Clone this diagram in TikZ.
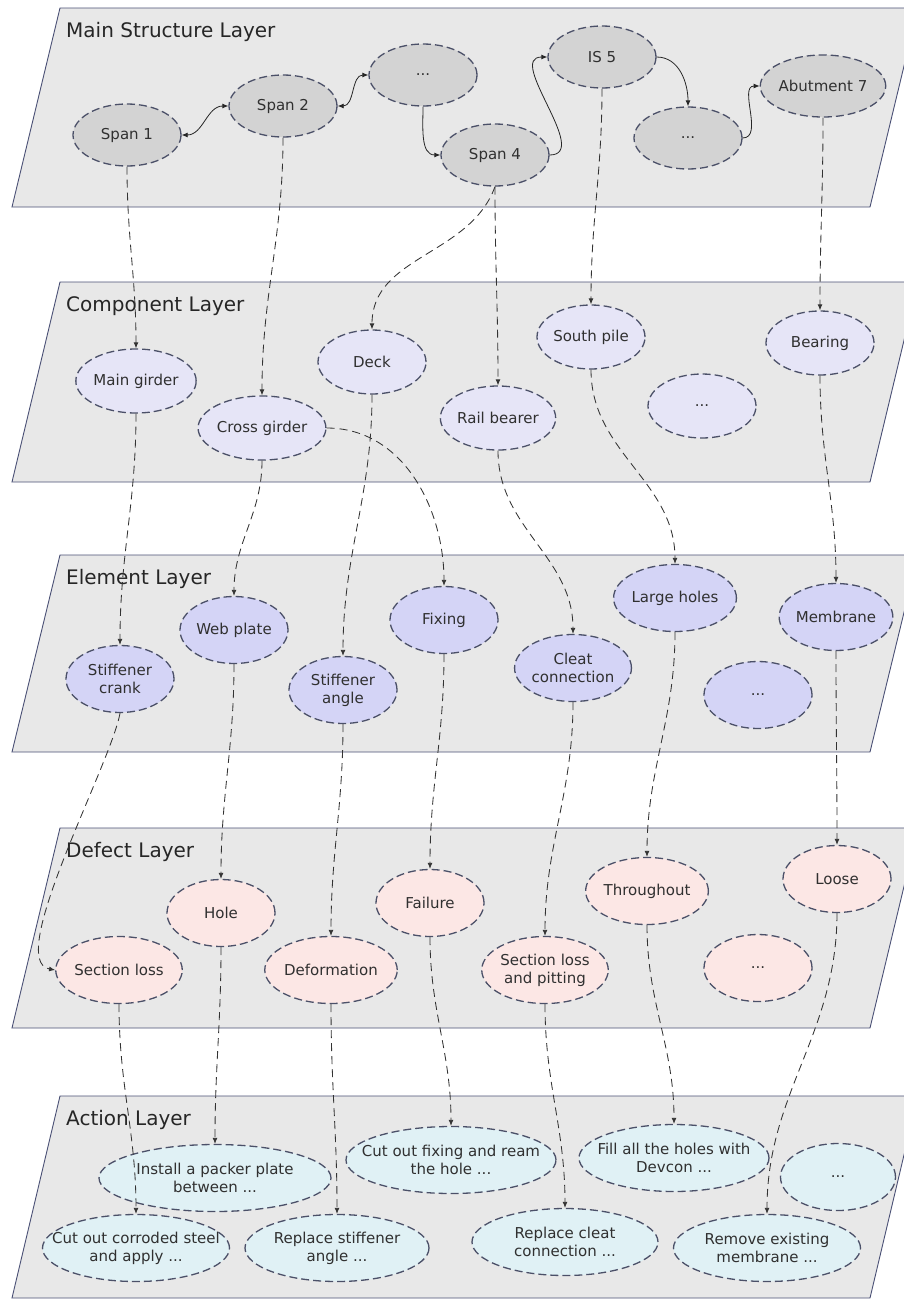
\documentclass[tikz,border=0pt]{standalone}
\usepackage{fontspec}
\setmainfont{DejaVu Sans}
\usetikzlibrary{arrows.meta,shapes.geometric}
\definecolor{LayerGray}{HTML}{E8E8E8}
\definecolor{LayerEdge}{HTML}{4A5075}
\definecolor{ItemEdge}{HTML}{4B5068}
\definecolor{TextInk}{HTML}{303030}
\definecolor{MainGray}{HTML}{D3D3D3}
\definecolor{CompLilac}{HTML}{E6E5F7}
\definecolor{ElemBlue}{HTML}{D4D4F6}
\definecolor{DefPink}{HTML}{FCE7E5}
\definecolor{ActCyan}{HTML}{E0F1F5}
\definecolor{LinkInk}{HTML}{333333}
\tikzset{
  layerbox/.style={draw=LayerEdge,fill=LayerGray,line width=.9pt},
  layertitle/.style={font=\fontsize{20}{24}\selectfont,text=black!85,anchor=base west,inner sep=0pt},
  item/.style={ellipse,draw=ItemEdge,dash pattern=on 8pt off 4pt,line width=1.3pt,
    minimum width=108pt,minimum height=64pt,inner sep=0pt,align=center,
    text=TextInk,font=\fontsize{15}{18}\selectfont},
  mainitem/.style={item,fill=MainGray,minimum height=62pt},
  compitem/.style={item,fill=CompLilac},
  elemitem/.style={item,fill=ElemBlue,minimum height=67pt},
  defitem/.style={item,fill=DefPink,minimum height=67pt},
  actitem/.style={item,fill=ActCyan,minimum height=67pt,inner xsep=-24pt},
  chain/.style={-{Latex[length=6pt,width=5pt]},draw=black!85,line width=.8pt},
  twoway/.style={{Latex[length=6pt,width=5pt]}-{Latex[length=6pt,width=5pt]},draw=black!85,line width=.8pt},
  link/.style={-{Latex[length=6pt,width=5pt]},draw=LinkInk,line width=.85pt,dash pattern=on 8pt off 5pt}
}
\begin{document}
\begin{tikzpicture}[x=1pt,y=-1pt]
  \useasboundingbox (0,0) rectangle (903,1301);
  \foreach \t/\b/\name in {8/207/Main Structure Layer,282/482/Component Layer,
      555/752/Element Layer,828/1028/Defect Layer,1096/1298/Action Layer}{
    \draw[layerbox] (60,\t) -- (918,\t) -- (870,\b) -- (12,\b) -- cycle;
    \node[layertitle] at (66,\t+29) {\name};
  }

  \node[mainitem] (span1) at (127,135) {Span 1};
  \node[mainitem] (span2) at (283,106) {Span 2};
  \node[mainitem] (mdotsA) at (423,75) {...};
  \node[mainitem] (span4) at (495,155) {Span 4};
  \node[mainitem] (is5) at (602,57) {IS 5};
  \node[mainitem] (mdotsB) at (688,138) {...};
  \node[mainitem] (abut7) at (823,86) {Abutment 7};

  \node[compitem] (maingirder) at (136,381) {Main girder};
  \node[compitem] (crossgirder) at (262,428) {Cross girder};
  \node[compitem] (deck) at (372,362) {Deck};
  \node[compitem] (railbearer) at (498,418) {Rail bearer};
  \node[compitem] (southpile) at (591,337) {South pile};
  \node[compitem] (cdots) at (702,406) {...};
  \node[compitem] (bearing) at (820,343) {Bearing};

  \node[elemitem] (stiffcrank) at (120,679) {Stiffener\\crank};
  \node[elemitem] (webplate) at (234,630) {Web plate};
  \node[elemitem] (stiffangle) at (343,690) {Stiffener\\angle};
  \node[elemitem] (fixing) at (444,620) {Fixing};
  \node[elemitem] (cleat) at (573,668) {Cleat\\connection};
  \node[elemitem] (largeholes) at (675,598) {Large holes};
  \node[elemitem] (edots) at (758,695) {...};
  \node[elemitem] (membrane) at (836,617) {Membrane};

  \node[defitem] (secloss) at (119,970) {Section loss};
  \node[defitem] (hole) at (221,913) {Hole};
  \node[defitem] (deform) at (331,970) {Deformation};
  \node[defitem] (failure) at (430,903) {Failure};
  \node[defitem] (pitting) at (545,970) {Section loss\\and pitting};
  \node[defitem] (throughout) at (647,891) {Throughout};
  \node[defitem] (ddots) at (758,968) {...};
  \node[defitem] (loose) at (837,879) {Loose};

  \node[actitem,minimum width=232pt] (install) at (215,1178) {Install a packer plate\\between ...};
  \node[actitem,minimum width=187pt] (corroded) at (136,1248) {Cut out corroded steel\\and apply ...};
  \node[actitem,minimum width=184pt] (replstiff) at (337,1248) {Replace stiffener\\angle ...};
  \node[actitem,minimum width=210pt] (cutfix) at (451,1160) {Cut out fixing and ream\\the hole ...};
  \node[actitem,minimum width=186pt] (replcleat) at (565,1242) {Replace cleat\\connection ...};
  \node[actitem,minimum width=190pt] (fillholes) at (674,1158) {Fill all the holes with\\Devcon ...};
  \node[actitem,minimum width=187pt] (remove) at (767,1248) {Remove existing\\membrane ...};
  \node[actitem,minimum width=115pt] (adots) at (838,1177) {...};

  \draw[twoway] (span1.east) to[out=0,in=180] (span2.west);
  \draw[twoway] (span2.east) to[out=0,in=180] (mdotsA.west);
  \draw[chain] (mdotsA.south) to[out=-90,in=180] (span4.west);
  \draw[chain] (span4.east) to[out=0,in=180,looseness=1.1] (is5.west);
  \draw[chain] (is5.east) to[out=0,in=90] (mdotsB.north);
  \draw[chain] (mdotsB.east) to[out=0,in=180] (abut7.west);

  \draw[link] (span1.south) to[out=-90,in=90] (maingirder.north);
  \draw[link] (span2.south) to[out=-90,in=90] (crossgirder.north);
  \draw[link] (span4.south) to[out=-110,in=90] (deck.north);
  \draw[link] (span4.south) to[out=-90,in=90] (railbearer.north);
  \draw[link] (is5.south) to[out=-90,in=90] (southpile.north);
  \draw[link] (abut7.south) to[out=-90,in=90] (bearing.north);

  \draw[link] (maingirder.south) to[out=-90,in=90] (stiffcrank.north);
  \draw[link] (crossgirder.south) to[out=-90,in=90] (webplate.north);
  \draw[link] (crossgirder.east) to[out=0,in=90] (fixing.north);
  \draw[link] (deck.south) to[out=-90,in=90] (stiffangle.north);
  \draw[link] (railbearer.south) to[out=-90,in=90] (cleat.north);
  \draw[link] (southpile.south) to[out=-90,in=90] (largeholes.north);
  \draw[link] (bearing.south) to[out=-90,in=90] (membrane.north);

  \draw[link] (stiffcrank.south) to[out=-100,in=170,looseness=.5] (secloss.west);
  \draw[link] (webplate.south) to[out=-90,in=90] (hole.north);
  \draw[link] (stiffangle.south) to[out=-90,in=90] (deform.north);
  \draw[link] (fixing.south) to[out=-90,in=90] (failure.north);
  \draw[link] (cleat.south) to[out=-90,in=90] (pitting.north);
  \draw[link] (largeholes.south) to[out=-90,in=90] (throughout.north);
  \draw[link] (membrane.south) to[out=-90,in=90] (loose.north);

  \draw[link] (secloss.south) to[out=-90,in=90] (corroded.north);
  \draw[link] (hole.south) to[out=-90,in=90] (install.north);
  \draw[link] (deform.south) to[out=-90,in=90] (replstiff.north);
  \draw[link] (failure.south) to[out=-90,in=90] (cutfix.north);
  \draw[link] (pitting.south) to[out=-90,in=90] (replcleat.north);
  \draw[link] (throughout.south) to[out=-90,in=90] (fillholes.north);
  \draw[link] (loose.south) to[out=-90,in=90] (remove.north);
\end{tikzpicture}
\end{document}
